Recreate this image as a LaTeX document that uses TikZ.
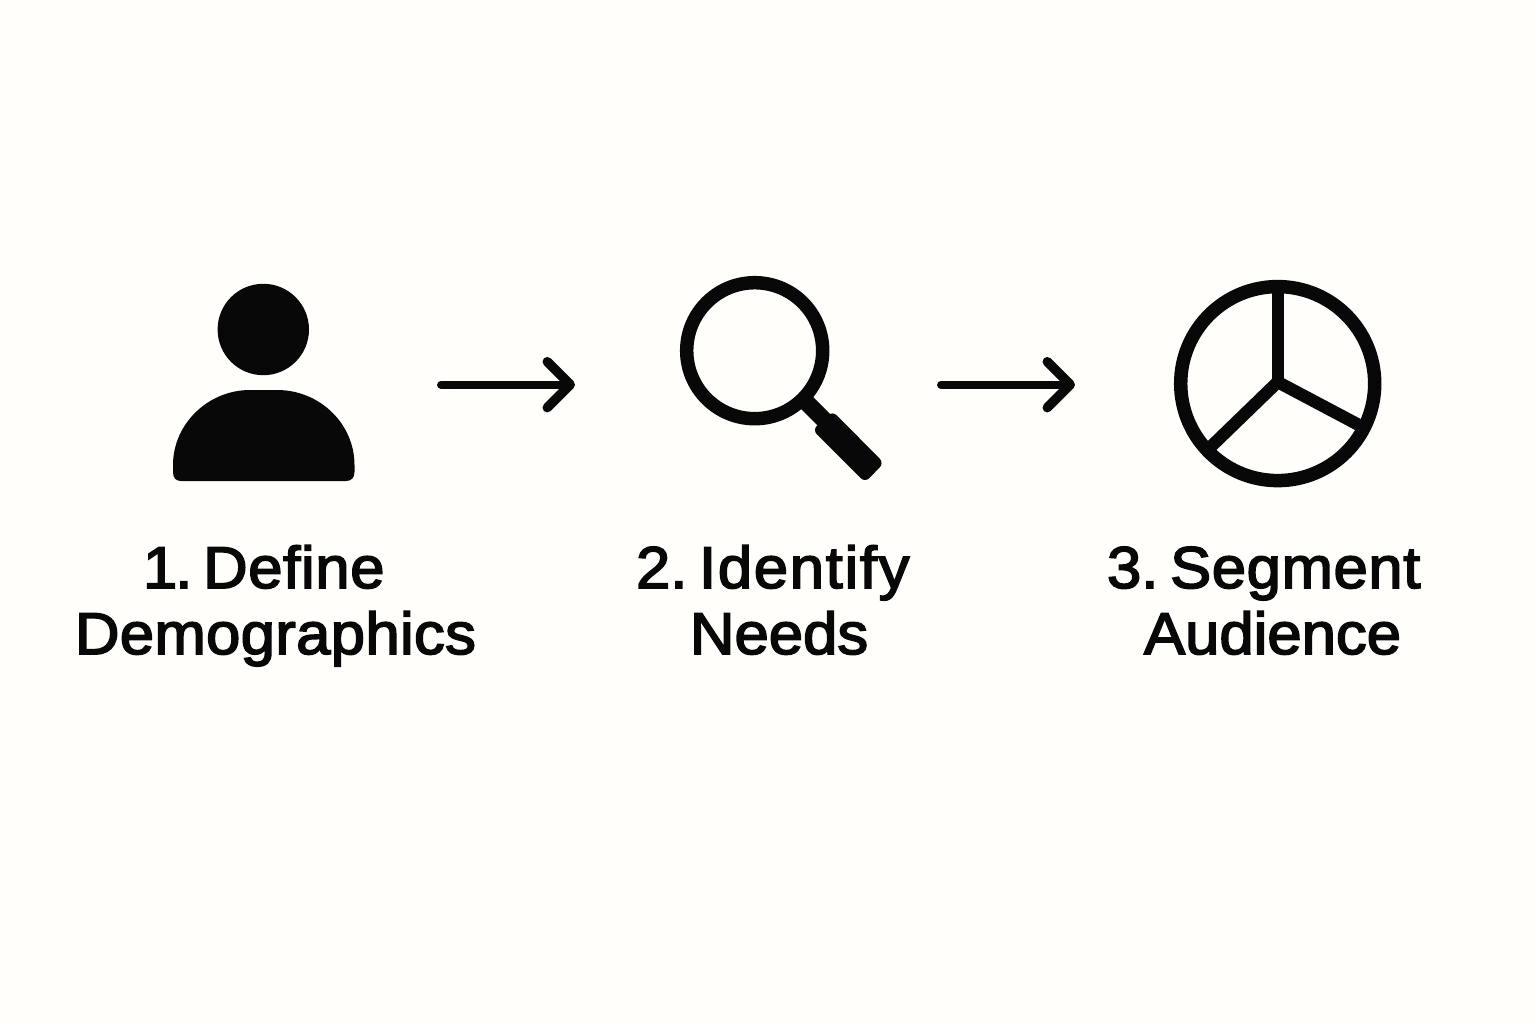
\documentclass[tikz,border=0pt]{standalone}
\usepackage{fontspec}
\usetikzlibrary{arrows.meta}
\newfontfamily\lab{Liberation Sans}[FakeBold=2.8,FakeStretch=1.045,WordSpace=0.7]
\newcommand{\spaced}[2]{{\addfontfeature{LetterSpace=#1}#2}}
\definecolor{bg}{HTML}{FFFEFA}
\definecolor{ink}{HTML}{080808}
\tikzset{
  x=1pt,y=-1pt,
  label text/.style={anchor=base west,inner sep=0pt,outer sep=0pt,text=ink,font=\fontsize{59}{66}\selectfont\lab},
  flow/.style={draw=ink,line width=8pt,line cap=round,-{Straight Barb[length=23pt,width=46pt,line width=9.5pt,round]}},
  ring/.style={draw=ink,line width=13.5pt},
  spoke/.style={draw=ink,line width=12.4pt},
  solid ink/.style={fill=ink,draw=none}
}
\begin{document}
\begin{tikzpicture}
\useasboundingbox[fill=bg] (0,0) rectangle (1536,1024);
% person
\coordinate (head) at (263.3,329.5);
\fill[solid ink] (head) circle (45.7pt);
\fill[solid ink] (173,470) -- (173,465) .. controls (173,424) and (208,390) .. (250,390) -- (277,390) .. controls (320,390) and (354.5,424) .. (354.5,465) -- (354.5,472) .. controls (354.5,478) and (351,481) .. (346,481) -- (181,481) .. controls (176,481) and (173,478) .. (173,472) -- cycle;
% arrows
\coordinate (a1s) at (441,384.7); \coordinate (a1e) at (575,384.7);
\coordinate (a2s) at (941,384.7); \coordinate (a2e) at (1075,384.7);
\draw[flow] (a1s) -- (a1e);
\draw[flow] (a2s) -- (a2e);
% magnifier
\coordinate (lens) at (754.7,350.7);
\draw[ring] (lens) circle (68pt);
\fill[solid ink] (796,404) -- (808,392) -- (834,418) -- (822,430) -- cycle;
\fill[solid ink,rounded corners=6pt] (832.5,411) -- (884,463) -- (865,482.5) -- (812.5,430) -- cycle;
% pie
\coordinate (pie) at (1277.7,383.6);
\coordinate (hub) at (1277.7,382);
\coordinate (pt) at (1277.7,287);
\coordinate (pr) at (1361.7,426.5);
\coordinate (pl) at (1209,448.5);
\draw[ring] (pie) circle (97pt);
\draw[spoke] (pt) -- (hub);
\draw[spoke,line join=miter] (pl) -- (hub) -- (pr);
% labels
\node[label text] (t1a) at (143,588) {1\kern-2pt.\hspace{-7pt} \spaced{1.1}{Define}};
\node[label text] (t1b) at (75,654) {\spaced{0.55}{Demographics}};
\node[label text] (t2a) at (636,588) {2.\hspace{-6pt} \spaced{2.8}{Identify}};
\node[label text] (t2b) at (690,654) {Needs};
\node[label text] (t3a) at (1107,588) {3.\hspace{-6pt} \spaced{1.0}{Segment}};
\node[label text] (t3b) at (1144,654) {Audience};
\end{tikzpicture}
\end{document}
